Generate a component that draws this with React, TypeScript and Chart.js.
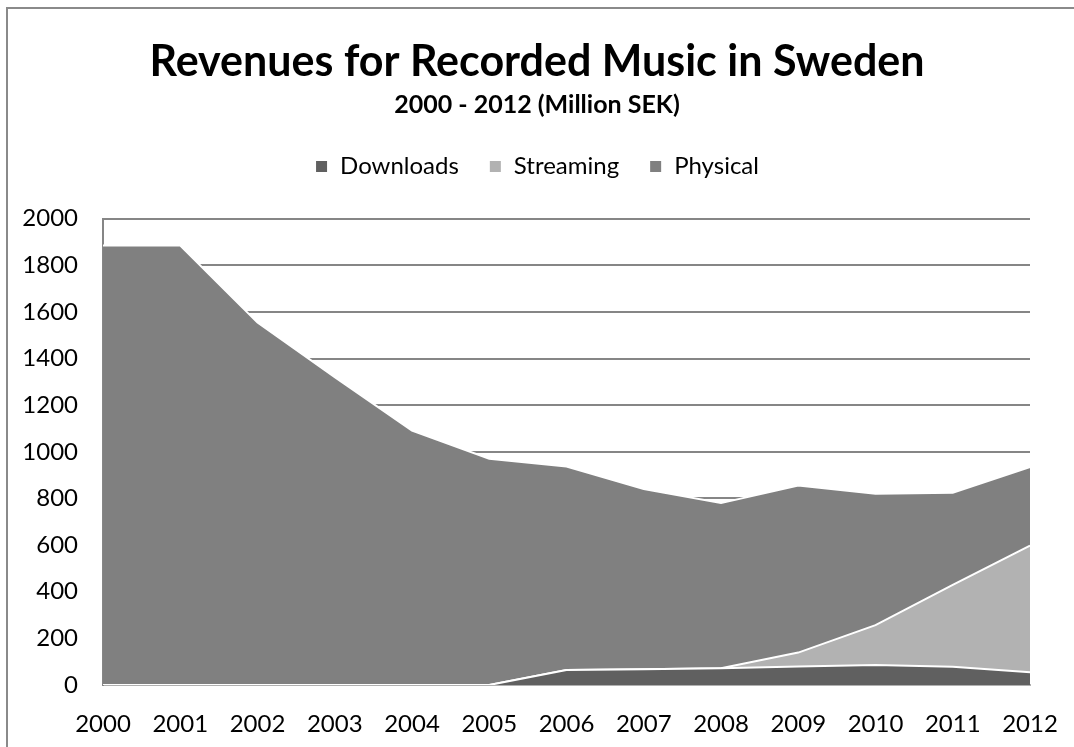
import React, { useEffect, useRef } from "react";
import { Chart, registerables } from "chart.js";

Chart.register(...registerables);

const years = ["2000", "2001", "2002", "2003", "2004", "2005", "2006", "2007", "2008", "2009", "2010", "2011", "2012"];
const downloads = [0, 0, 0, 0, 0, 0, 64, 68, 72, 79, 86, 78, 55];
const streaming = [0, 0, 0, 0, 0, 0, 0, 0, 0, 60, 171, 351, 543];
const physical = [1885, 1885, 1554, 1320, 1091, 970, 873, 772, 708, 716, 563, 395, 337];

const FONT = "Lato, 'Open Sans', sans-serif";

export default function App() {
  const ref = useRef<HTMLCanvasElement | null>(null);

  useEffect(() => {
    if (!ref.current) return;
    const chart = new Chart(ref.current, {
      type: "line",
      data: {
        labels: years,
        datasets: [
          {
            label: "Downloads",
            data: downloads,
            backgroundColor: "#606060",
            borderColor: "#ffffff",
            borderWidth: 2,
            fill: "origin",
            pointRadius: 0,
            tension: 0,
          },
          {
            label: "Streaming",
            data: streaming,
            backgroundColor: "#b2b2b2",
            borderColor: "#ffffff",
            borderWidth: 2,
            fill: "-1",
            pointRadius: 0,
            tension: 0,
          },
          {
            label: "Physical",
            data: physical,
            backgroundColor: "#808080",
            borderColor: "#ffffff",
            borderWidth: 2,
            fill: "-1",
            pointRadius: 0,
            tension: 0,
          },
        ],
      },
      options: {
        responsive: false,
        animation: false,
        layout: { padding: { left: 0, right: 0, top: 0, bottom: 0 } },
        plugins: {
          title: {
            display: true,
            text: "Revenues for Recorded Music in Sweden",
            color: "#000",
            font: { family: FONT, size: 43, weight: "bold" },
            padding: { top: 36, bottom: 2 },
          },
          subtitle: {
            display: true,
            text: "2000 - 2012 (Million SEK)",
            color: "#000",
            font: { family: FONT, size: 25, weight: "bold" },
            padding: { top: 0, bottom: 5 },
          },
          legend: {
            display: true,
            position: "top",
            labels: {
              color: "#000",
              font: { family: FONT, size: 24 },
              boxWidth: 13,
              boxHeight: 13,
              padding: 30,
            },
          },
          tooltip: { enabled: false },
        },
        scales: {
          x: {
            offset: false,
            grid: { display: false, drawTicks: false },
            border: { display: true, color: "#b0b0b0", width: 2 },
            ticks: {
              color: "#000",
              font: { family: FONT, size: 24 },
              padding: 25,
              maxRotation: 0,
              autoSkip: false,
            },
            afterFit: (scale: any) => {
              scale.height = 62;
              scale.paddingLeft = 0;
              scale.paddingRight = 0;
            },
          },
          y: {
            stacked: true,
            min: 0,
            max: 2000,
            grid: { color: "#868686", lineWidth: 2, drawTicks: false },
            border: { display: true, color: "#868686", width: 2 },
            ticks: {
              stepSize: 200,
              color: "#000",
              font: { family: FONT, size: 24 },
              padding: 25,
              callback: (v: any) => String(v),
            },
            afterFit: (scale: any) => {
              scale.width = 103;
              scale.paddingTop = 0;
              scale.paddingBottom = 0;
            },
          },
          xTop: {
            type: "category",
            position: "top",
            labels: years,
            grid: { display: false, drawTicks: false },
            border: { display: false },
            ticks: { display: false },
            afterFit: (scale: any) => {
              scale.height = 30;
              scale.paddingLeft = 0;
              scale.paddingRight = 0;
            },
          },
          yRight: {
            type: "linear",
            position: "right",
            grid: { display: false, drawTicks: false },
            border: { display: false },
            ticks: { display: false },
            afterFit: (scale: any) => {
              scale.width = 44;
              scale.paddingTop = 0;
              scale.paddingBottom = 0;
            },
          },
        },
      } as any,
    });
    return () => chart.destroy();
  }, []);

  return (
    <div style={{ position: "fixed", left: 0, top: 0, width: 1074, height: 747, overflow: "hidden", background: "#fff" }}>
      <div
        style={{
          position: "absolute",
          left: 6,
          top: 7,
          width: 1100,
          height: 800,
          borderLeft: "2px solid #8a8a8a",
          borderTop: "2px solid #8a8a8a",
        }}
      />
      <canvas ref={ref} width={1074} height={747} style={{ position: "absolute", left: 0, top: 0 }} />
    </div>
  );
}
